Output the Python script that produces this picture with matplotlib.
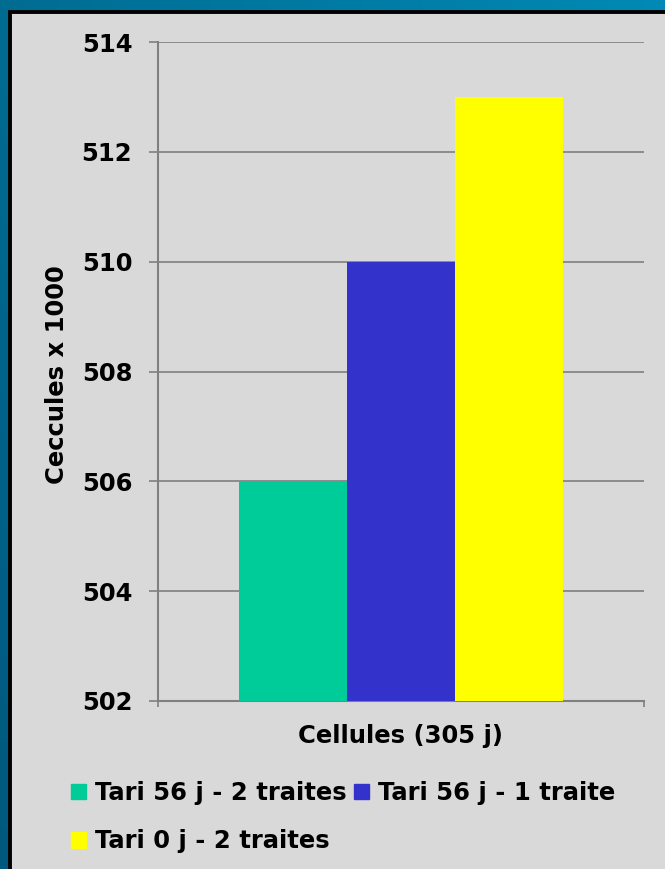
import numpy as np
import matplotlib
matplotlib.use("Agg")
import matplotlib.pyplot as plt
from matplotlib.patches import Rectangle, Patch

# Somatic cell counts over 305 days, by drying-off treatment
series = ["Tari 56 j - 2 traites", "Tari 56 j - 1 traite", "Tari 0 j - 2 traites"]
values = [506, 510, 513]
colors = ["#00CC99", "#3333CC", "#FFFF00"]
category = "Cellules (305 j)"
y_label = "Ceccules x 1000"
y_ticks = [502, 504, 506, 508, 510, 512, 514]

W, H = 665, 869
FS = 17.5
fig = plt.figure(figsize=(W / 100, H / 100), dpi=100)

# blue slide background with a soft gradient
bg = fig.add_axes([0, 0, 1, 1], zorder=-10)
gx = np.linspace(0, 1, 200)[None, :]
gy = np.linspace(0, 1, 200)[:, None]
c0 = np.array([0x00, 0x6C, 0x92]) / 255
c1 = np.array([0x00, 0x8A, 0xB5]) / 255
c2 = np.array([0x00, 0x58, 0x7E]) / 255
grad = c0 + (c1 - c0) * gx[..., None] + (c2 - c0) * gy[..., None]
bg.imshow(np.clip(grad, 0, 1), aspect="auto", extent=[0, 1, 0, 1], origin="upper")
bg.set_axis_off()

# gray chart panel with black frame
fig.patches.append(Rectangle((9.5 / W, -0.05), 1.1, (H - 11.5) / H + 0.05,
                             transform=fig.transFigure, facecolor="#D9D9D9",
                             edgecolor="black", linewidth=2.8, zorder=-5))

ax = fig.add_axes([158 / W, 1 - 701 / H, (644 - 158) / W, (701 - 42) / H])
ax.set_facecolor("none")

width = 0.222
offsets = [-width, 0, width]
for off, val, col, name in zip(offsets, values, colors, series):
    ax.bar(off, val - y_ticks[0], bottom=y_ticks[0], width=width, color=col,
           label=name, zorder=3)

ax.set_xlim(-0.5, 0.5)
ax.set_ylim(y_ticks[0], y_ticks[-1])
ax.set_yticks(y_ticks)
ax.set_yticklabels([str(t) for t in y_ticks], fontsize=FS, fontweight="bold")
ax.set_xticks([-0.5, 0.5])
ax.set_xticklabels(["", ""])
ax.tick_params(axis="y", length=6.5, width=1.2, color="#808080", pad=12)
ax.tick_params(axis="x", length=4, width=1.2, color="#808080")
ax.grid(axis="y", color="#808080", linewidth=1.2, zorder=0)
for side in ["top", "right"]:
    ax.spines[side].set_visible(False)
for side in ["left", "bottom"]:
    ax.spines[side].set_color("#808080")
    ax.spines[side].set_linewidth(1.5)

fig.text(401 / W, 1 - 736 / H, category, fontsize=FS, fontweight="bold",
         ha="center", va="center")
fig.text(57.5 / W, 1 - 375 / H, y_label, fontsize=FS, fontweight="bold",
         ha="center", va="center", rotation=90)

handles = [Patch(color=c) for c in colors]
order = [0, 2, 1]
fig.legend([handles[i] for i in order], [series[i] for i in order],
           ncol=2, loc="upper left", bbox_to_anchor=(71 / W, 1 - 781 / H),
           frameon=False, prop={"size": FS, "weight": "bold"},
           handlelength=0.62, handleheight=0.62, handletextpad=0.37,
           columnspacing=0.3, labelspacing=1.0, borderpad=0, borderaxespad=0)

fig.savefig("out.png", dpi=100)
